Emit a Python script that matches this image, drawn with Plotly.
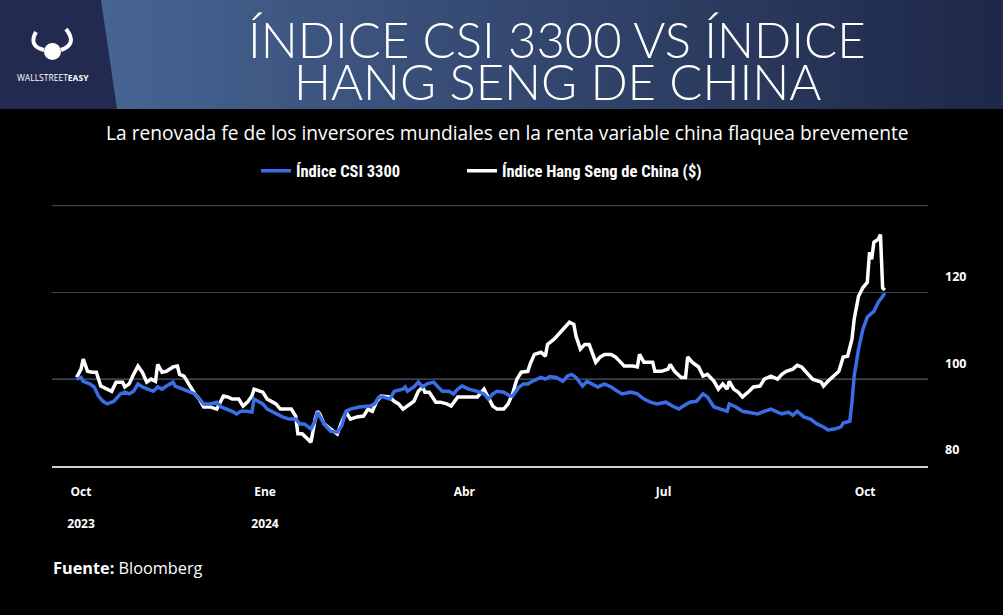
import plotly.graph_objects as go

# CSI 300 index, rebased
csi_dates = [
    "2023-10-07", "2023-10-09", "2023-10-10", "2023-10-13", "2023-10-15", "2023-10-17", "2023-10-19",
    "2023-10-21", "2023-10-24", "2023-10-27", "2023-10-29", "2023-10-31", "2023-11-02", "2023-11-04",
    "2023-11-06", "2023-11-09", "2023-11-11", "2023-11-13", "2023-11-15", "2023-11-17", "2023-11-20",
    "2023-11-21", "2023-11-24", "2023-11-27", "2023-11-30", "2023-12-02", "2023-12-04", "2023-12-07",
    "2023-12-10", "2023-12-12", "2023-12-15", "2023-12-17", "2023-12-19", "2023-12-21", "2023-12-24",
    "2023-12-26", "2023-12-27", "2023-12-31", "2024-01-02", "2024-01-06", "2024-01-09", "2024-01-12",
    "2024-01-15", "2024-01-17", "2024-01-19", "2024-01-22", "2024-01-24", "2024-01-25", "2024-01-26",
    "2024-01-28", "2024-01-31", "2024-02-03", "2024-02-05", "2024-02-07", "2024-02-09", "2024-02-13",
    "2024-02-18", "2024-02-20", "2024-02-22", "2024-02-24", "2024-02-27", "2024-02-29", "2024-03-04",
    "2024-03-05", "2024-03-06", "2024-03-09", "2024-03-11", "2024-03-13", "2024-03-15", "2024-03-18",
    "2024-03-20", "2024-03-22", "2024-03-25", "2024-03-27", "2024-03-29", "2024-03-31", "2024-04-03",
    "2024-04-07", "2024-04-10", "2024-04-12", "2024-04-14", "2024-04-16", "2024-04-19", "2024-04-22",
    "2024-04-23", "2024-04-26", "2024-04-28", "2024-04-30", "2024-05-02", "2024-05-06", "2024-05-08",
    "2024-05-10", "2024-05-13", "2024-05-16", "2024-05-18", "2024-05-20", "2024-05-22", "2024-05-25",
    "2024-05-27", "2024-05-29", "2024-06-01", "2024-06-04", "2024-06-07", "2024-06-10", "2024-06-12",
    "2024-06-16", "2024-06-19", "2024-06-22", "2024-06-25", "2024-06-28", "2024-07-02", "2024-07-05",
    "2024-07-08", "2024-07-10", "2024-07-13", "2024-07-16", "2024-07-19", "2024-07-21", "2024-07-24",
    "2024-07-27", "2024-07-30", "2024-07-31", "2024-08-03", "2024-08-06", "2024-08-09", "2024-08-13",
    "2024-08-15", "2024-08-19", "2024-08-22", "2024-08-24", "2024-08-27", "2024-08-29", "2024-08-31",
    "2024-09-03", "2024-09-06", "2024-09-09", "2024-09-12", "2024-09-14", "2024-09-17", "2024-09-20",
    "2024-09-21", "2024-09-24", "2024-09-25", "2024-09-26", "2024-09-28", "2024-09-30", "2024-10-02",
    "2024-10-05", "2024-10-07", "2024-10-10",
]
csi_values = [
    100.0, 100.4, 99.5, 98.9, 98.2, 96.1, 94.9,
    94.3, 94.9, 96.6, 97.0, 96.6, 97.2, 98.9,
    98.2, 97.7, 97.2, 98.2, 97.7, 98.4, 99.3,
    98.4, 97.7, 97.2, 96.6, 95.4, 94.3, 94.3,
    94.7, 93.6, 93.1, 92.6, 92.0, 92.6, 92.6,
    92.4, 95.4, 94.3, 93.1, 92.0, 91.3, 90.8,
    90.8, 89.7, 89.7, 88.5, 90.5, 92.4, 91.5,
    89.7, 88.0, 87.8, 89.2, 92.6, 93.1, 93.6,
    93.8, 94.3, 95.9, 95.9, 95.4, 97.2, 97.7,
    98.2, 97.2, 98.2, 99.3, 98.2, 98.9, 99.3,
    98.2, 97.2, 97.2, 96.6, 97.7, 98.4, 97.7,
    97.2, 96.6, 95.4, 96.6, 97.2, 97.0, 96.1,
    96.1, 98.2, 98.9, 98.9, 99.5, 100.4, 100.0,
    100.6, 100.4, 99.5, 100.7, 101.1, 100.4, 98.4,
    99.5, 98.9, 98.2, 98.9, 98.2, 97.2, 96.6,
    97.0, 96.6, 95.4, 94.7, 94.3, 94.7, 93.8,
    93.1, 93.8, 94.7, 94.9, 96.6, 95.9, 93.6,
    93.1, 92.6, 94.3, 93.6, 92.6, 92.4, 92.0,
    92.4, 93.1, 92.4, 92.0, 92.4, 91.7, 92.6,
    91.3, 90.8, 89.7, 89.0, 88.3, 88.5, 89.0,
    89.9, 90.3, 94.7, 100.7, 106.9, 111.5, 114.3,
    115.6, 117.7, 119.8,
]

# Hang Seng China Enterprises index in USD, rebased
hs_dates = [
    "2023-10-07", "2023-10-09", "2023-10-10", "2023-10-12", "2023-10-14", "2023-10-16", "2023-10-18",
    "2023-10-21", "2023-10-23", "2023-10-25", "2023-10-28", "2023-10-29", "2023-10-31", "2023-11-02",
    "2023-11-04", "2023-11-06", "2023-11-08", "2023-11-10", "2023-11-12", "2023-11-13", "2023-11-15",
    "2023-11-17", "2023-11-20", "2023-11-22", "2023-11-23", "2023-11-25", "2023-11-28", "2023-11-30",
    "2023-12-02", "2023-12-04", "2023-12-07", "2023-12-10", "2023-12-13", "2023-12-15", "2023-12-17",
    "2023-12-20", "2023-12-22", "2023-12-24", "2023-12-26", "2023-12-27", "2023-12-31", "2024-01-02",
    "2024-01-06", "2024-01-08", "2024-01-11", "2024-01-13", "2024-01-15", "2024-01-16", "2024-01-18",
    "2024-01-22", "2024-01-24", "2024-01-25", "2024-01-26", "2024-01-28", "2024-01-31", "2024-02-03",
    "2024-02-05", "2024-02-07", "2024-02-09", "2024-02-12", "2024-02-15", "2024-02-17", "2024-02-19",
    "2024-02-21", "2024-02-23", "2024-02-27", "2024-02-29", "2024-03-02", "2024-03-04", "2024-03-06",
    "2024-03-09", "2024-03-11", "2024-03-13", "2024-03-14", "2024-03-16", "2024-03-19", "2024-03-21",
    "2024-03-24", "2024-03-26", "2024-03-29", "2024-03-31", "2024-04-02", "2024-04-05", "2024-04-07",
    "2024-04-10", "2024-04-12", "2024-04-14", "2024-04-16", "2024-04-19", "2024-04-21", "2024-04-23",
    "2024-04-25", "2024-04-27", "2024-04-30", "2024-05-01", "2024-05-03", "2024-05-06", "2024-05-08",
    "2024-05-09", "2024-05-12", "2024-05-14", "2024-05-17", "2024-05-19", "2024-05-21", "2024-05-22",
    "2024-05-24", "2024-05-26", "2024-05-28", "2024-05-31", "2024-06-02", "2024-06-04", "2024-06-07",
    "2024-06-09", "2024-06-11", "2024-06-13", "2024-06-17", "2024-06-19", "2024-06-20", "2024-06-22",
    "2024-06-24", "2024-06-26", "2024-06-27", "2024-06-30", "2024-07-03", "2024-07-04", "2024-07-06",
    "2024-07-09", "2024-07-11", "2024-07-12", "2024-07-14", "2024-07-17", "2024-07-19", "2024-07-21",
    "2024-07-24", "2024-07-26", "2024-07-28", "2024-07-30", "2024-07-31", "2024-08-02", "2024-08-04",
    "2024-08-06", "2024-08-09", "2024-08-11", "2024-08-14", "2024-08-16", "2024-08-19", "2024-08-22",
    "2024-08-24", "2024-08-26", "2024-08-29", "2024-08-31", "2024-09-02", "2024-09-05", "2024-09-07",
    "2024-09-11", "2024-09-12", "2024-09-14", "2024-09-16", "2024-09-19", "2024-09-21", "2024-09-23",
    "2024-09-25", "2024-09-26", "2024-09-28", "2024-09-30", "2024-10-02", "2024-10-03", "2024-10-04",
    "2024-10-05", "2024-10-07", "2024-10-08", "2024-10-09", "2024-10-10",
]
hs_values = [
    100.4, 102.3, 104.6, 101.8, 101.6, 101.6, 98.4,
    97.7, 97.2, 99.3, 99.3, 98.2, 98.9, 101.1,
    103.0, 101.6, 99.3, 100.0, 99.5, 103.4, 101.6,
    101.8, 102.8, 103.0, 101.1, 100.7, 98.2, 96.6,
    95.4, 93.6, 93.6, 93.1, 96.1, 95.9, 95.4,
    95.4, 93.8, 94.7, 96.1, 97.7, 97.0, 95.4,
    94.3, 93.1, 93.1, 93.1, 91.5, 87.4, 87.4,
    85.5, 91.0, 92.6, 92.0, 89.7, 88.5, 87.4,
    90.1, 92.4, 90.8, 91.3, 91.5, 93.1, 92.6,
    94.9, 96.1, 95.9, 94.9, 94.3, 93.1, 93.8,
    94.9, 97.2, 98.2, 97.0, 97.0, 94.7, 94.7,
    94.3, 93.8, 95.9, 95.9, 95.9, 95.9, 95.9,
    97.7, 95.9, 93.8, 93.1, 93.1, 94.3, 96.6,
    100.0, 101.6, 101.8, 103.4, 105.7, 106.2, 105.3,
    108.0, 109.2, 110.3, 112.2, 113.1, 112.6, 109.9,
    106.9, 108.0, 108.0, 103.9, 105.1, 105.7, 105.7,
    105.1, 104.1, 103.0, 103.0, 102.8, 105.7, 103.9,
    103.9, 103.9, 101.8, 101.8, 102.3, 103.4, 101.8,
    100.4, 100.4, 105.1, 103.9, 102.8, 100.7, 101.1,
    99.5, 97.7, 98.9, 97.7, 99.5, 97.7, 97.0,
    95.9, 97.2, 98.2, 98.4, 100.0, 100.7, 100.0,
    101.1, 101.8, 102.3, 103.2, 102.8, 101.1, 100.0,
    99.3, 98.4, 99.5, 100.4, 101.8, 105.1, 105.3,
    109.2, 113.8, 119.1, 121.1, 122.3, 129.2, 127.6,
    131.5, 132.2, 133.3, 121.0, 120.5,
]

tick_dates = ["2023-10-09", "2024-01-01", "2024-04-01", "2024-07-01", "2024-10-01"]
tick_text = ["Oct<br><br>2023", "Ene<br><br>2024", "Abr", "Jul", "Oct"]
y_ticks = [80, 100, 120, 140]
y_text = ["80", "100", "120", ""]

W, H = 1003, 615
L, R, T, B = 52, 75, 205, 149
PW, PH = W - L - R, H - T - B


def px(x):
    return (x - L) / PW


def py(y):
    return (H - B - y) / PH


fig = go.Figure()

fig.add_trace(go.Scatter(
    x=hs_dates, y=hs_values, mode="lines", name="Índice Hang Seng de China ($)",
    line=dict(color="white", width=3.5), legend="legend2",
))
fig.add_trace(go.Scatter(
    x=csi_dates, y=csi_values, mode="lines", name="Índice CSI 3300",
    line=dict(color="#3a6ee6", width=3.5), legend="legend",
))

shapes = []
# header gradient made of thin strips
c0 = (0x47, 0x64, 0x92)
c1 = (0x1e, 0x28, 0x48)
n = 100
for i in range(n):
    t = i / (n - 1)
    col = "rgb(%d,%d,%d)" % tuple(round(a + (b - a) * t) for a, b in zip(c0, c1))
    x0 = 100 + (W - 100) * i / n
    x1 = 100 + (W - 100) * (i + 1) / n + 1
    shapes.append(dict(type="rect", xref="paper", yref="paper",
                       x0=px(x0), x1=px(x1), y0=py(109), y1=py(0),
                       fillcolor=col, line_width=0, layer="below"))
# logo panel
shapes.append(dict(type="path", xref="paper", yref="paper",
                   path="M %f,%f L %f,%f L %f,%f L %f,%f Z" % (
                       px(0), py(0), px(101), py(0), px(117), py(109), px(0), py(109)),
                   fillcolor="#222a4f", line_width=0, layer="below"))
# simple bull mark
shapes.append(dict(type="path", xref="paper", yref="paper",
                   path="M %f,%f Q %f,%f %f,%f" % (px(36), py(32), px(28), py(46), px(44), py(50)),
                   line=dict(color="white", width=4)))
shapes.append(dict(type="path", xref="paper", yref="paper",
                   path="M %f,%f Q %f,%f %f,%f" % (px(66), py(29), px(78), py(44), px(61), py(50)),
                   line=dict(color="white", width=4)))
shapes.append(dict(type="circle", xref="paper", yref="paper",
                   x0=px(44), x1=px(61), y0=py(43), y1=py(60),
                   fillcolor="white", line_width=0))
# top grid line (plotly hides the one on the plot edge) and grey line at 100
shapes.append(dict(type="line", xref="paper", yref="y", x0=0, x1=1, y0=140, y1=140,
                   line=dict(color="#39425a", width=1.5), layer="below"))
shapes.append(dict(type="line", xref="paper", yref="y", x0=0, x1=1, y0=100, y1=100,
                   line=dict(color="#5a5a5a", width=1.5), layer="below"))

annotations = [
    dict(text="ÍNDICE CSI 3300 VS ÍNDICE", x=px(557), y=py(39)),
    dict(text="HANG SENG DE CHINA", x=px(557), y=py(81)),
]
for a in annotations:
    a.update(xref="paper", yref="paper", showarrow=False, xanchor="center", yanchor="middle",
             font=dict(family="Lato", size=49, color="white", weight=300))

annotations += [
    dict(text="La renovada fe de los inversores mundiales en la renta variable china flaquea brevemente",
         x=px(507), y=py(133), xref="paper", yref="paper", showarrow=False,
         xanchor="center", yanchor="middle",
         font=dict(family="Open Sans", size=19.2, color="white", weight=500)),
    dict(text="<b>Fuente:</b> Bloomberg", x=px(51), y=py(568), xref="paper", yref="paper",
         showarrow=False, xanchor="left", yanchor="middle",
         font=dict(family="Open Sans", size=16.3, color="white")),
    dict(text="WALLSTREET<b>EASY</b>", x=px(53), y=py(78), xref="paper", yref="paper",
         showarrow=False, xanchor="center", yanchor="middle",
         font=dict(family="Open Sans", size=8.5, color="white")),
]

legend_font = dict(family="Liberation Sans Narrow, Roboto Condensed, DejaVu Sans Condensed, sans-serif",
                   size=16.5, color="white", weight="bold")

fig.update_layout(
    width=W, height=H,
    margin=dict(l=L, r=R, t=T, b=B),
    paper_bgcolor="black", plot_bgcolor="black",
    shapes=shapes, annotations=annotations,
    showlegend=True,
    legend=dict(orientation="h", x=px(256), y=py(171), xanchor="left", yanchor="middle",
                bgcolor="rgba(0,0,0,0)", font=legend_font),
    legend2=dict(orientation="h", x=px(462), y=py(171), xanchor="left", yanchor="middle",
                 bgcolor="rgba(0,0,0,0)", font=legend_font),
    xaxis=dict(
        range=["2023-09-25 18:00", "2024-10-29 17:00"],
        tickvals=tick_dates, ticktext=tick_text,
        showgrid=False, zeroline=False,
        showline=True, linecolor="#d0d0d0", linewidth=2,
        ticks="", ticklabelstandoff=14,
        tickfont=dict(family="Open Sans", size=12, color="white", weight="bold"),
    ),
    yaxis=dict(
        range=[80, 140.1], side="right",
        tickvals=y_ticks, ticktext=y_text,
        showgrid=True, gridcolor="#39425a", gridwidth=1,
        zeroline=False, showline=False, ticks="",
        ticklabelstandoff=16, ticklabelshift=-16,
        tickfont=dict(family="Open Sans", size=12.5, color="white", weight="bold"),
    ),
)

fig.write_html("out.html", config={"displayModeBar": False},
               post_script="document.body.style.margin='0px';")
